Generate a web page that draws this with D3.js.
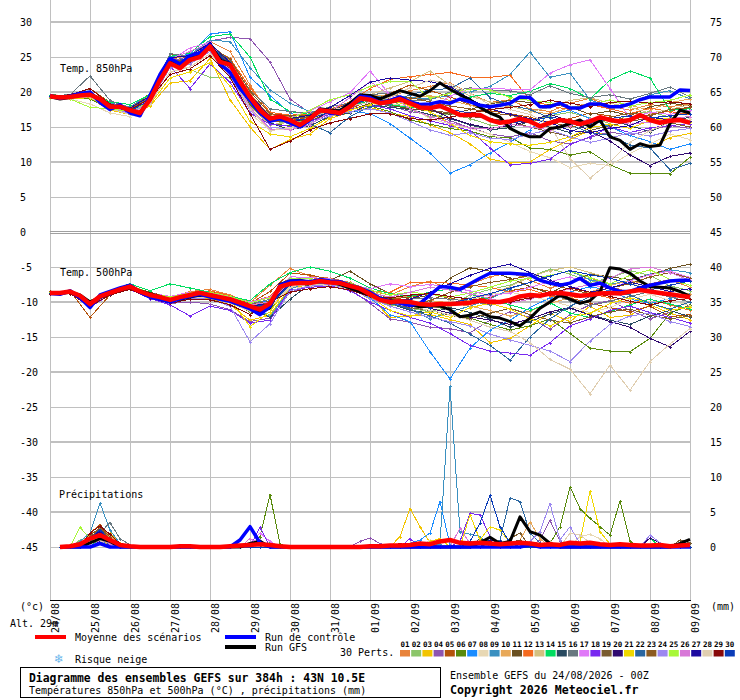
<!DOCTYPE html>
<html>
<head>
<meta charset="utf-8">
<script src="https://cdn.jsdelivr.net/npm/d3@7"></script>
<style>
  body { margin: 0; background: #fff; }
  svg text { font-family: "DejaVu Sans Mono", monospace; font-size: 10px; fill: #000; }
</style>
</head>
<body>
<svg id="chart" width="740" height="700"></svg>
<script>
// dates under each day line
const dateLabels = ["24/08","25/08","26/08","27/08","28/08","29/08","30/08","31/08","01/09",
                    "02/09","03/09","04/09","05/09","06/09","07/09","08/09","09/09"];

const pertNames = d3.range(1, 31).map(d => d < 10 ? "0" + d : "" + d);
const pertColors = ["#e8833a","#8cc66a","#f2c400","#8e55b0","#b4530b","#588a0c","#1a8cff","#e8d8b4",
                    "#3a90c0","#e8a858","#6a5020","#f56a1e","#d4c080","#00dd60","#284a60","#687880",
                    "#e078f8","#7828f0","#7a5c30","#300a70","#f0d800","#2a66a0","#8c5a20","#9c88f0",
                    "#a8f838","#d878d8","#1c0aa0","#e0ceb0","#880808","#0a3cb8"];

// 6-hourly, 0h -> 384h
const t850Mean = [19.4,19.2,19.3,19.5,19.6,19.0,17.9,17.9,17.4,17.0,
  18.9,21.7,24.1,23.4,24.6,25.0,26.5,24.3,23.9,21.5,
  19.3,17.4,16.2,16.5,16.0,15.3,16.2,17.4,17.2,17.0,
  17.9,19.1,18.9,18.4,18.6,19.0,18.4,17.8,17.7,18.0,
  17.4,16.7,16.7,16.7,16.0,15.6,15.8,16.2,15.8,15.1,
  15.6,16.0,15.8,15.4,15.8,16.4,16.0,15.8,16.0,16.7,
  16.0,15.6,15.9,16.0,15.6];
const t850Ctrl = [19.5,19.1,19.4,19.8,20.0,18.5,17.5,18.2,17.0,16.6,
  19.5,22.5,24.8,24.0,25.2,25.6,26.8,24.0,22.8,20.5,
  18.8,17.0,15.8,16.2,15.6,15.0,16.0,17.5,17.0,16.9,
  18.0,19.4,19.2,18.5,18.8,19.3,18.6,18.2,18.3,18.6,
  18.4,19.0,18.6,18.1,17.9,18.1,18.4,19.3,19.2,17.9,
  17.9,18.4,17.7,17.7,18.3,18.3,17.9,17.9,18.3,18.9,
  19.3,19.3,19.3,20.3,20.2];
const t850Gfs = [19.3,19.0,19.2,19.6,19.9,18.8,17.6,18.0,17.2,16.9,
  19.2,22.0,24.5,23.8,24.9,25.4,26.9,24.6,24.0,21.2,
  19.0,17.1,16.0,16.4,15.8,15.1,16.3,17.6,17.4,17.3,
  18.4,19.6,19.5,19.0,19.6,20.2,19.8,19.4,20.2,21.3,
  20.4,19.6,18.9,17.8,17.0,16.4,14.8,14.1,13.6,13.6,
  14.8,15.0,15.5,16.0,15.0,16.0,13.6,13.1,11.8,12.6,
  12.2,12.4,15.5,17.4,17.0];

const t500Mean = [-8.7,-8.7,-8.5,-9.1,-10.3,-9.2,-8.7,-8.2,-7.8,-8.5,
  -9.0,-9.3,-9.7,-9.3,-9.0,-8.7,-9.0,-9.3,-9.6,-10.1,
  -10.6,-11.1,-10.2,-7.8,-7.4,-7.3,-7.3,-7.0,-7.2,-7.3,
  -7.7,-8.1,-8.9,-9.7,-10.0,-9.9,-10.0,-10.3,-10.4,-10.3,
  -10.3,-10.2,-10.1,-9.8,-10.0,-10.0,-9.7,-9.2,-9.0,-9.1,
  -8.8,-8.7,-8.9,-9.1,-9.0,-8.8,-8.7,-8.8,-8.5,-8.3,
  -8.5,-8.7,-8.9,-9.1,-9.3];
const t500Ctrl = [-8.8,-8.9,-8.4,-9.4,-10.8,-9.0,-8.5,-8.0,-7.6,-8.6,
  -9.3,-9.6,-10.0,-9.5,-9.2,-8.9,-9.3,-9.6,-9.9,-10.4,
  -11.0,-11.8,-10.6,-7.6,-7.0,-7.0,-7.1,-6.8,-7.0,-7.1,
  -7.6,-8.0,-8.6,-9.5,-9.9,-10.2,-10.5,-10.2,-9.0,-7.8,
  -7.9,-8.2,-7.4,-6.6,-5.9,-5.9,-5.9,-6.0,-6.1,-6.9,
  -7.3,-7.6,-7.3,-6.6,-7.6,-7.3,-8.0,-8.5,-8.5,-8.0,
  -7.6,-7.3,-7.0,-6.9,-6.9];
const t500Gfs = [-8.6,-8.8,-8.6,-9.0,-10.0,-9.3,-8.8,-8.3,-7.9,-8.4,
  -8.8,-9.2,-9.8,-9.6,-9.3,-9.0,-9.1,-9.4,-9.8,-10.3,
  -10.9,-11.6,-10.8,-7.5,-7.0,-6.9,-7.2,-7.0,-7.2,-7.5,
  -8.0,-8.5,-9.0,-9.5,-9.8,-10.0,-10.4,-10.7,-10.5,-10.6,
  -11.1,-12.1,-11.9,-11.4,-12.1,-12.3,-12.8,-13.4,-12.3,-10.9,
  -10.0,-9.0,-9.6,-10.2,-9.8,-8.5,-5.1,-5.3,-5.9,-7.0,
  -7.8,-7.9,-8.0,-8.5,-9.2];

// perturbations, 12-hourly 0h -> 384h
const t850Perts = [
  [19.3,19.1,19.8,18.2,17.8,19.5,24.6,25.3,27.2,25.8,21.0,16.8,16.4,16.9,17.6,18.3,19.5,19.4,20.2,20.8,21.3,19.8,18.5,18.9,17.6,17.2,18.4,19.1,18.0,17.4,18.2,17.9,18.3],
  [19.5,19.4,19.2,17.6,17.1,18.6,23.8,23.2,22.1,22.0,18.9,15.9,15.5,16.0,17.5,17.8,19.2,18.8,17.5,16.4,16.9,16.2,15.3,14.9,15.8,16.6,17.1,16.3,15.5,16.8,17.2,16.4,15.9],
  [19.2,19.0,19.1,17.4,16.8,18.0,21.3,21.6,24.8,18.9,15.0,11.8,13.2,14.0,16.2,17.1,17.8,17.0,16.5,15.3,14.2,12.6,10.4,9.9,10.0,11.8,13.2,14.5,13.8,12.4,12.0,13.5,14.1],
  [19.4,19.3,19.6,18.1,17.0,19.2,24.4,25.1,27.3,27.8,27.6,24.3,19.0,17.0,17.0,17.8,18.6,18.0,17.2,16.8,15.9,14.9,14.0,13.6,14.2,13.0,12.6,13.5,14.3,13.8,14.6,15.2,14.8],
  [19.6,19.5,20.5,18.5,17.6,19.8,25.4,24.8,26.0,23.5,18.8,15.8,15.9,16.4,17.0,17.5,18.9,19.8,21.0,20.2,19.3,18.2,17.3,16.9,16.4,15.6,16.2,17.0,16.6,15.9,16.8,17.3,17.8],
  [19.3,19.2,19.0,17.7,17.3,18.8,23.9,24.3,26.6,23.1,18.2,15.4,15.2,15.9,17.1,17.6,18.0,17.2,16.0,15.4,14.8,14.4,13.6,13.5,12.0,11.8,11.0,11.5,9.6,8.4,8.4,8.3,10.7],
  [19.4,19.5,19.9,18.3,17.7,19.4,24.9,25.4,28.3,28.6,22.1,19.5,17.0,16.0,16.9,17.3,16.9,15.5,13.4,11.3,8.4,9.6,11.3,12.8,14.6,16.8,17.4,16.2,15.0,13.8,12.9,11.8,12.6],
  [19.1,19.0,18.3,17.0,16.5,18.2,22.8,23.6,25.4,22.3,16.9,14.6,15.0,15.5,16.9,17.6,18.1,18.3,17.9,16.2,15.4,14.8,14.0,12.8,11.5,10.6,9.2,9.8,9.5,11.2,12.6,14.0,13.2],
  [19.5,19.4,19.7,18.4,17.9,19.7,25.0,25.3,27.4,27.2,23.5,20.3,18.4,17.2,17.0,17.7,19.2,19.6,19.2,19.0,19.5,20.0,20.8,22.5,25.7,22.1,22.7,18.9,17.8,18.4,19.6,20.2,19.0],
  [19.4,19.2,19.6,18.0,17.5,19.1,24.3,24.9,26.9,24.4,19.8,16.6,16.3,16.6,17.4,18.2,19.4,19.6,19.0,19.5,18.8,18.1,17.4,18.0,17.2,16.9,17.8,18.4,17.6,18.1,17.4,18.5,19.0],
  [19.3,19.2,19.4,17.8,17.2,18.7,23.9,24.5,26.3,23.3,18.6,15.9,15.8,16.0,16.8,17.4,18.4,18.1,17.6,17.3,16.8,17.5,18.3,18.8,18.5,18.2,17.9,16.8,17.3,16.6,17.9,18.4,18.0],
  [19.5,19.4,19.8,18.0,17.4,19.0,24.0,24.6,26.4,24.8,20.6,17.1,16.7,16.8,17.5,18.6,20.5,21.8,22.2,22.5,22.8,22.1,22.1,22.4,18.9,18.0,17.5,18.2,17.6,16.9,17.7,17.2,16.8],
  [19.2,19.1,19.3,17.6,16.9,18.4,23.6,24.2,26.1,22.9,17.9,15.3,15.7,16.3,17.3,17.8,19.6,20.6,21.5,23.0,21.0,19.4,18.6,18.0,17.2,17.8,18.8,19.2,18.4,17.8,17.0,17.5,18.2],
  [19.6,19.5,19.9,18.6,18.2,19.6,25.1,25.6,27.9,28.3,25.0,19.0,17.2,16.8,17.2,17.9,18.8,18.2,17.8,17.5,18.6,19.3,19.8,19.5,20.1,21.2,20.5,19.0,21.7,23.0,22.0,17.4,17.6],
  [19.3,19.3,19.5,17.7,17.0,18.5,24.0,24.8,26.8,24.0,19.0,15.6,14.6,15.2,16.5,17.0,18.2,17.8,17.5,16.8,16.2,15.3,14.6,14.9,15.8,15.0,14.2,15.6,16.0,15.2,14.3,15.8,16.4],
  [19.5,19.6,22.3,18.8,17.6,19.3,25.5,25.0,26.7,24.6,20.2,17.6,17.2,17.0,17.9,18.4,19.6,19.9,18.8,18.9,20.0,20.6,20.3,20.2,19.6,20.9,19.8,19.2,19.6,19.0,19.8,20.7,19.3],
  [19.4,19.2,19.6,18.0,17.4,18.9,24.5,26.3,27.1,23.0,19.1,16.3,16.4,17.3,18.6,19.9,23.0,19.6,18.0,17.6,19.4,20.5,20.5,20.4,20.3,22.7,23.9,24.6,20.5,16.2,17.1,16.8,17.4],
  [19.3,19.1,19.4,17.7,17.1,18.6,23.7,20.5,24.0,21.4,17.0,15.4,15.1,15.8,16.8,17.5,18.1,17.6,16.6,15.9,15.2,14.5,12.0,9.6,9.8,10.4,12.5,13.6,15.0,14.2,14.9,15.2,15.5],
  [19.4,19.3,19.5,17.9,17.3,18.9,24.2,24.6,26.2,24.3,19.5,16.4,16.1,16.5,17.5,18.1,19.0,18.7,18.2,17.4,17.0,16.5,16.2,15.8,15.0,14.3,13.6,14.5,15.2,15.8,16.3,15.6,15.0],
  [19.3,19.2,19.7,18.0,17.5,19.0,24.0,24.4,26.4,23.6,19.0,16.0,15.9,16.1,17.0,18.5,19.5,18.9,18.5,17.6,16.3,15.4,14.8,15.2,15.9,16.8,15.9,14.4,13.0,11.0,9.5,10.8,11.3],
  [19.2,19.0,19.2,17.5,16.9,18.2,22.0,22.9,24.2,20.8,15.8,14.0,13.6,14.8,16.4,17.4,18.2,18.9,18.0,17.2,15.5,13.8,12.9,12.6,12.4,12.8,13.6,14.9,15.4,14.8,15.9,16.3,15.7],
  [19.4,19.3,19.6,17.8,17.2,18.8,24.2,24.9,26.8,24.3,19.4,16.0,15.7,15.4,14.2,16.5,17.9,18.3,19.6,20.3,20.5,22.0,19.2,18.1,17.5,16.3,15.3,14.2,13.8,12.4,12.0,8.9,9.8],
  [19.5,19.4,19.8,18.1,17.6,19.1,24.3,24.7,26.6,24.7,20.1,16.9,16.6,16.7,17.4,18.0,19.3,19.1,19.2,18.6,18.0,17.6,17.0,16.7,16.1,15.7,15.0,15.5,16.4,17.0,16.6,17.5,17.8],
  [19.3,19.2,19.3,17.6,17.0,18.5,23.5,24.0,25.8,22.3,17.4,14.9,14.8,15.6,16.6,17.2,17.6,17.0,15.8,14.6,13.8,14.2,13.4,13.2,14.0,14.6,13.6,12.8,13.4,14.2,13.7,14.4,14.8],
  [19.2,19.0,17.8,17.6,17.2,18.7,23.8,24.4,26.2,23.5,18.6,16.1,16.2,17.4,18.9,19.6,20.8,21.5,21.5,19.1,19.8,20.4,20.3,19.2,18.8,18.5,17.8,18.2,18.9,18.0,18.5,18.8,19.6],
  [19.4,19.3,19.4,17.8,17.3,18.9,24.7,25.8,27.0,23.4,17.8,14.7,14.6,15.3,17.2,19.2,21.5,19.6,17.6,16.5,15.6,14.9,14.7,15.4,15.0,14.6,15.2,16.2,16.0,15.4,15.7,16.2,16.5],
  [19.5,19.4,19.9,18.2,17.7,19.4,24.9,25.2,27.0,24.2,19.6,16.5,16.2,16.7,17.8,19.5,21.4,22.0,21.7,21.5,20.8,19.0,17.6,16.8,16.2,15.6,14.5,14.2,14.8,15.2,16.4,16.0,15.8],
  [19.3,19.2,19.3,17.6,16.8,18.3,22.9,23.6,25.5,22.6,17.6,14.5,14.8,15.9,17.4,18.0,18.5,19.2,20.6,21.7,21.2,19.8,18.2,17.5,16.8,15.2,10.5,7.7,10.0,12.8,14.5,15.6,16.2],
  [19.4,19.6,20.5,18.3,17.5,19.0,22.5,23.3,25.2,22.1,16.9,11.8,13.0,14.6,15.6,16.2,16.9,16.9,16.2,16.0,16.4,17.0,17.5,17.8,18.2,18.8,18.4,17.9,18.5,18.7,18.4,18.6,18.3],
  [19.4,19.3,19.6,17.9,17.3,18.8,24.0,24.5,26.6,23.8,19.1,16.1,15.9,16.2,17.1,18.0,19.1,18.6,18.7,18.1,17.5,17.0,16.2,15.6,15.9,16.4,16.0,15.6,16.2,16.6,16.3,16.6,16.9]
];

const t500Perts = [
  [-8.6,-8.4,-10.6,-8.5,-7.6,-8.8,-9.4,-8.5,-8.2,-9.0,-10.1,-7.6,-5.2,-6.3,-6.6,-7.2,-8.4,-9.0,-7.8,-7.0,-8.2,-7.5,-6.4,-5.8,-6.9,-8.0,-7.2,-6.5,-7.8,-8.6,-7.4,-6.8,-7.9],
  [-8.8,-8.6,-9.8,-8.6,-8.0,-9.3,-9.9,-9.2,-9.4,-10.0,-10.9,-11.8,-8.0,-7.5,-7.0,-7.9,-9.6,-10.4,-10.9,-11.4,-10.6,-9.0,-8.2,-7.6,-6.4,-5.3,-6.0,-7.2,-6.6,-5.5,-6.2,-7.7,-8.4],
  [-8.7,-8.5,-10.2,-8.8,-7.9,-9.2,-9.9,-9.3,-9.5,-10.4,-12.6,-11.9,-7.9,-7.6,-7.5,-8.1,-9.3,-12.2,-12.0,-11.8,-12.5,-13.2,-15.8,-15.2,-13.4,-11.6,-12.8,-10.6,-12.2,-11.9,-10.4,-11.6,-12.5],
  [-8.7,-8.6,-10.5,-8.9,-8.1,-9.4,-10.2,-10.0,-10.3,-11.1,-12.8,-12.3,-8.6,-7.8,-7.6,-8.2,-10.2,-12.4,-12.9,-13.6,-13.8,-14.4,-12.6,-11.4,-12.2,-13.9,-11.8,-10.4,-9.8,-11.2,-12.4,-11.5,-10.6],
  [-8.5,-8.4,-12.2,-9.0,-7.8,-8.6,-9.3,-8.6,-8.5,-9.3,-10.2,-8.5,-5.9,-6.1,-6.8,-7.3,-9.0,-9.6,-9.3,-8.8,-9.5,-9.8,-9.3,-8.4,-7.9,-8.5,-9.4,-10.2,-10.8,-11.4,-10.6,-12.1,-11.8],
  [-8.8,-8.6,-10.3,-8.8,-7.9,-9.1,-9.8,-9.3,-9.3,-10.0,-11.4,-11.0,-7.8,-7.6,-7.4,-7.9,-8.6,-9.4,-10.4,-10.9,-11.6,-12.3,-13.2,-14.0,-13.4,-12.4,-14.5,-16.6,-17.0,-17.1,-15.2,-11.6,-10.4],
  [-8.6,-8.5,-10.1,-8.6,-7.7,-8.9,-9.5,-8.9,-8.8,-9.4,-10.3,-9.8,-7.2,-7.0,-7.3,-8.1,-9.4,-11.8,-12.8,-17.1,-21.0,-16.6,-14.0,-12.6,-10.8,-9.4,-8.6,-7.8,-8.4,-9.6,-10.2,-9.5,-8.8],
  [-8.8,-8.6,-10.0,-8.7,-8.0,-9.2,-9.8,-9.4,-9.2,-10.2,-11.3,-10.8,-8.0,-7.8,-7.6,-8.3,-9.2,-10.0,-10.6,-10.4,-9.8,-9.4,-8.9,-8.6,-9.2,-9.8,-10.6,-11.5,-10.8,-9.6,-8.9,-9.8,-10.5],
  [-8.6,-8.4,-10.4,-8.6,-7.7,-8.9,-9.6,-8.8,-8.7,-9.3,-10.4,-12.1,-8.2,-7.0,-6.8,-7.4,-8.8,-10.1,-11.0,-12.4,-11.4,-10.6,-9.6,-8.1,-7.2,-6.2,-5.6,-6.8,-7.5,-6.9,-6.0,-5.4,-5.8],
  [-8.7,-8.5,-10.3,-8.7,-7.8,-9.0,-9.6,-9.0,-8.9,-9.5,-10.5,-9.9,-6.8,-7.0,-7.1,-7.6,-8.5,-9.4,-9.2,-9.8,-10.1,-10.6,-11.2,-12.0,-11.3,-10.2,-9.4,-8.6,-7.6,-7.0,-7.5,-8.2,-8.9],
  [-8.7,-8.6,-10.6,-8.8,-7.9,-9.1,-9.8,-9.2,-9.1,-9.8,-10.8,-10.6,-7.2,-7.1,-6.9,-5.6,-7.4,-8.8,-9.6,-9.0,-6.6,-5.1,-5.6,-6.6,-7.8,-8.8,-7.2,-6.0,-6.4,-6.8,-6.1,-5.2,-4.6],
  [-8.6,-8.4,-10.2,-8.5,-7.6,-8.8,-9.3,-8.7,-8.4,-9.1,-10.0,-9.2,-6.4,-6.5,-6.9,-7.4,-8.4,-8.6,-7.2,-7.2,-7.3,-7.6,-7.9,-8.6,-8.2,-9.1,-9.6,-8.8,-9.4,-10.2,-9.6,-10.4,-11.2],
  [-8.8,-8.6,-10.1,-8.7,-7.9,-9.1,-9.8,-9.2,-9.3,-9.9,-11.0,-10.8,-7.6,-7.3,-7.2,-7.8,-8.9,-9.8,-10.2,-10.9,-10.5,-9.7,-8.9,-7.8,-6.4,-5.5,-5.0,-5.8,-6.6,-7.4,-8.1,-7.6,-7.0],
  [-8.7,-8.5,-10.0,-8.4,-7.4,-8.4,-7.4,-8.0,-8.6,-9.2,-9.8,-7.4,-5.8,-5.0,-5.6,-6.6,-8.0,-8.8,-9.2,-8.6,-8.1,-8.9,-9.6,-10.4,-11.2,-10.1,-11.6,-12.2,-11.4,-10.4,-9.6,-10.3,-11.0],
  [-8.7,-8.5,-10.4,-8.8,-7.9,-9.0,-9.7,-9.1,-9.1,-9.7,-10.9,-12.2,-9.6,-7.4,-7.3,-7.8,-9.0,-10.2,-11.2,-11.6,-10.8,-11.5,-12.4,-13.6,-12.8,-11.7,-10.9,-11.8,-12.6,-13.2,-12.0,-11.2,-12.1],
  [-8.6,-8.5,-10.2,-8.6,-7.7,-8.9,-9.6,-8.9,-8.9,-9.5,-10.3,-9.6,-6.9,-7.0,-7.0,-7.5,-8.7,-9.7,-9.6,-9.4,-9.6,-9.9,-10.4,-10.0,-9.4,-8.9,-9.8,-10.5,-9.9,-9.2,-8.5,-9.3,-10.0],
  [-8.7,-8.4,-10.1,-8.5,-7.6,-8.7,-9.2,-8.6,-8.6,-9.3,-10.0,-9.3,-6.4,-6.5,-6.7,-7.5,-8.1,-7.4,-7.8,-7.5,-7.9,-8.4,-9.1,-8.7,-7.9,-7.1,-6.4,-7.5,-8.1,-7.0,-6.1,-5.6,-6.5],
  [-8.8,-8.7,-10.7,-9.0,-8.2,-9.5,-10.4,-12.0,-10.6,-11.2,-13.0,-12.6,-8.3,-7.9,-7.7,-8.4,-10.0,-11.2,-12.2,-13.0,-14.5,-16.2,-17.0,-17.3,-17.6,-15.8,-13.4,-12.4,-11.2,-10.6,-11.5,-12.2,-13.0],
  [-8.7,-8.6,-10.4,-8.7,-7.9,-9.1,-9.8,-9.1,-9.0,-9.6,-10.6,-10.1,-7.5,-7.3,-7.2,-7.8,-9.1,-10.3,-10.8,-11.2,-11.9,-12.4,-11.6,-10.9,-11.8,-12.6,-13.0,-12.1,-11.4,-11.0,-11.9,-12.4,-12.0],
  [-8.7,-8.5,-10.3,-8.7,-7.8,-9.0,-9.7,-9.0,-8.9,-9.5,-10.4,-10.0,-7.3,-7.2,-7.1,-7.7,-8.9,-9.9,-10.3,-10.9,-11.6,-12.1,-12.6,-13.2,-12.4,-11.4,-10.8,-11.9,-12.8,-13.6,-15.2,-16.4,-14.2],
  [-8.6,-8.4,-10.3,-8.6,-7.8,-9.0,-9.6,-9.1,-9.0,-9.7,-13.5,-11.4,-7.4,-7.1,-7.1,-7.6,-9.2,-11.2,-12.0,-11.4,-12.2,-10.8,-10.2,-11.0,-12.4,-13.4,-12.2,-11.6,-10.2,-9.4,-10.1,-11.2,-10.7],
  [-8.7,-8.5,-10.4,-8.7,-7.8,-8.9,-9.7,-9.0,-9.0,-9.6,-10.5,-10.3,-7.6,-7.3,-7.3,-7.8,-9.0,-10.2,-11.0,-12.0,-13.0,-14.6,-16.2,-18.3,-15.0,-12.4,-10.6,-9.2,-8.5,-9.0,-10.2,-11.0,-10.0],
  [-8.7,-8.5,-10.3,-8.7,-7.8,-9.0,-9.7,-9.0,-9.0,-9.6,-10.4,-9.9,-7.1,-7.1,-7.0,-7.6,-8.8,-9.8,-10.4,-9.8,-8.6,-7.8,-7.2,-6.8,-6.2,-7.4,-8.2,-8.8,-8.0,-7.4,-6.4,-5.8,-6.6],
  [-8.8,-8.6,-10.5,-8.8,-8.0,-9.3,-10.1,-9.5,-9.6,-10.6,-15.7,-13.1,-8.4,-7.7,-7.5,-8.1,-9.5,-10.6,-11.4,-12.2,-12.8,-13.4,-14.6,-15.4,-16.2,-17.0,-18.5,-15.6,-13.2,-12.0,-11.6,-12.8,-13.5],
  [-8.6,-8.4,-10.1,-8.5,-7.6,-8.7,-9.3,-8.7,-8.6,-9.2,-10.1,-9.4,-6.6,-6.7,-6.8,-7.3,-8.3,-9.0,-8.6,-8.9,-9.3,-8.7,-7.9,-7.0,-6.6,-6.2,-5.6,-6.5,-7.4,-6.2,-5.4,-6.8,-7.6],
  [-8.7,-8.5,-10.3,-8.6,-7.7,-8.9,-9.6,-9.0,-8.9,-9.5,-10.4,-10.0,-7.2,-7.1,-7.1,-7.7,-8.7,-9.3,-8.6,-7.9,-8.3,-8.8,-9.5,-10.2,-9.6,-8.8,-8.1,-7.5,-6.6,-5.3,-5.0,-5.8,-6.9],
  [-8.7,-8.5,-10.3,-8.7,-7.8,-9.0,-9.7,-9.1,-9.0,-9.6,-10.6,-10.2,-7.4,-7.2,-7.2,-7.7,-8.9,-9.8,-9.6,-8.6,-7.4,-6.2,-5.2,-4.6,-5.8,-6.9,-7.8,-8.6,-8.0,-7.2,-7.8,-8.5,-8.1],
  [-8.8,-8.6,-10.2,-8.8,-8.0,-9.2,-9.9,-9.3,-9.3,-9.9,-11.0,-10.7,-7.8,-7.5,-7.4,-8.0,-9.1,-9.9,-10.6,-11.2,-11.8,-12.6,-13.6,-14.2,-15.8,-18.2,-19.6,-23.1,-19.0,-22.6,-18.5,-16.0,-13.8],
  [-8.9,-8.8,-10.6,-9.0,-8.2,-9.4,-10.2,-9.6,-9.7,-10.4,-11.8,-10.0,-8.6,-8.1,-7.8,-8.3,-9.2,-9.4,-9.0,-8.8,-9.2,-9.6,-9.9,-10.0,-9.4,-8.8,-8.0,-8.6,-9.2,-9.9,-10.4,-9.8,-9.5],
  [-8.7,-8.5,-10.4,-8.8,-7.9,-9.1,-9.8,-9.2,-9.1,-9.7,-10.7,-10.4,-7.5,-7.3,-7.2,-7.8,-9.0,-10.1,-10.4,-10.8,-10.2,-9.5,-8.8,-8.0,-7.2,-6.3,-5.5,-6.1,-6.6,-7.4,-8.3,-7.6,-7.0]
];

// precipitation (mm / 6h), 6h -> 384h
const precipMean = [0.0,0.1,0.4,1.2,1.7,1.0,0.3,0.1,0.0,0.0,
  0.0,0.0,0.1,0.1,0.0,0.0,0.0,0.1,0.2,0.3,
  0.4,0.3,0.1,0.0,0.0,0.0,0.0,0.0,0.0,0.0,
  0.0,0.1,0.1,0.2,0.2,0.3,0.5,0.4,0.8,1.0,
  0.6,0.5,0.6,0.5,0.4,0.5,0.6,0.5,0.3,0.4,
  0.3,0.6,0.5,0.6,0.4,0.3,0.4,0.3,0.2,0.2,
  0.3,0.1,0.2,0.3];
// [hour, mm] for the steps with rain, 0 elsewhere
const precipCtrl = [[30,0.5],[114,1.0],[120,2.9],[126,0.6],[288,0.3]];
const precipGfs = [[24,0.6],[30,1.2],[36,0.8],[120,0.5],[126,0.8],[258,0.6],[264,1.4],[270,0.5],
  [276,0.8],[282,4.3],[288,2.2],[294,1.7],[300,0.5],[378,0.5],[384,1.1]];
const precipPerts = [
  [[24,1.2],[30,2.0],[36,1.0],[264,0.6],[330,0.4]],
  [[18,1.0],[24,1.5],[30,0.8],[270,0.5]],
  [[24,1.0],[30,1.6],[36,2.0],[42,0.6],[210,1.5],[216,5.5],[222,2.9],[228,0.6]],
  [[30,1.3],[36,0.8],[186,0.8],[192,1.3],[198,0.5],[294,1.0],[300,3.8],[306,0.8]],
  [[24,2.0],[30,3.2],[36,1.5],[42,0.4]],
  [[30,1.0],[36,0.6],[126,1.5],[132,7.5],[138,0.4],[300,0.5],[306,2.9],[312,8.6],[318,5.5],[324,4.1],[330,2.9],[336,1.7],[342,6.6],[348,0.8]],
  [[24,0.8],[30,1.2],[216,0.5],[222,1.0],[228,2.0],[234,6.5],[240,0.3]],
  [[30,0.8],[36,1.0],[228,1.0],[300,0.8],[318,1.5],[324,1.8],[330,1.2]],
  [[18,0.8],[24,2.0],[30,6.3],[36,2.4],[42,0.5],[234,0.5],[240,23.0],[246,2.2],[252,1.8],[258,1.5]],
  [[24,1.5],[30,2.4],[36,1.8],[282,1.0],[288,3.6],[294,1.2]],
  [[24,1.0],[30,1.8],[36,0.8],[276,0.6],[282,1.0]],
  [[24,1.8],[30,2.6],[36,1.2]],
  [[24,0.8],[30,1.4],[36,1.6]],
  [[30,1.2],[36,0.8],[132,0.6],[360,1.3]],
  [[24,1.2],[30,2.2],[36,1.0],[258,1.2],[264,0.8]],
  [[24,1.0],[30,2.0],[36,3.5],[42,1.2],[48,0.3]],
  [[24,0.6],[30,1.5],[36,0.6],[120,0.6],[126,2.0],[132,0.8]],
  [[30,1.0],[126,2.8],[216,1.2],[246,0.8],[252,4.8],[258,4.6],[264,1.5]],
  [[24,1.4],[30,2.6],[36,1.0],[276,1.2],[282,2.0],[378,1.0],[384,0.6]],
  [[30,0.8],[36,1.2],[360,1.3],[366,0.6]],
  [[24,0.7],[30,1.4],[228,0.8],[234,1.2],[252,4.6],[258,1.0],[264,2.9],[270,2.4],[276,0.6],[318,0.6],[324,8.0],[330,2.2],[336,0.4]],
  [[24,1.0],[30,1.8],[270,1.0],[276,7.0],[282,6.5],[288,2.0],[294,0.6]],
  [[24,1.6],[30,2.8],[36,1.4]],
  [[30,0.6],[126,1.0],[288,0.8],[294,2.2],[300,6.2],[306,1.0],[312,2.9],[318,0.5],[360,1.7],[366,0.6]],
  [[18,2.8],[24,1.2],[30,0.6]],
  [[30,1.0],[36,0.5],[120,1.2],[126,0.6],[246,2.7],[252,0.5]],
  [[24,1.4],[30,2.2],[36,0.8],[264,1.0],[270,0.8]],
  [[24,0.8],[30,1.0],[312,2.0],[318,1.7],[324,0.6]],
  [[24,2.0],[30,3.0],[36,1.8],[42,0.5],[210,0.5],[264,0.8]],
  [[24,1.2],[30,2.5],[36,1.0],[252,0.8],[258,3.4],[264,7.4],[270,2.9],[276,0.6]]
];

const leftTicks = d3.range(30, -46, -5);
const rightTicks = d3.range(0, 76, 5);

const svg = d3.select('#chart');

const x = d3.scaleLinear().domain([0, 384]).range([50, 690]);
const y = d3.scaleLinear().domain([-45, 30]).range([547, 22]);   // temperatures
const yP = d3.scaleLinear().domain([0, 75]).range([547, 22]);    // precipitation, right axis
const plotBottom = 600;

// grid
const grid = svg.append('g');
const dayHours = dateLabels.map((d, i) => i * 24);
grid.selectAll('line.v').data(dayHours).enter().append('line')
  .attr('x1', d => x(d) + 0.5).attr('x2', d => x(d) + 0.5)
  .attr('y1', 0).attr('y2', plotBottom)
  .attr('stroke', '#c0c0c0').attr('stroke-width', 1);

leftTicks.forEach(v => {
  if (v === 0) {
    [-1, 1].forEach(o => grid.append('line')
      .attr('x1', 50).attr('x2', 690)
      .attr('y1', y(0) + o + 0.5).attr('y2', y(0) + o + 0.5)
      .attr('stroke', '#a0a0a0'));
  } else {
    const thick = v % 10 === 0;
    grid.append('line')
      .attr('x1', 50).attr('x2', 690)
      .attr('y1', thick ? y(v) : y(v) + 0.5).attr('y2', thick ? y(v) : y(v) + 0.5)
      .attr('stroke', '#c0c0c0').attr('stroke-width', thick ? 2 : 1);
  }
});
grid.append('line').attr('x1', 50).attr('x2', 691).attr('y1', plotBottom + 0.5).attr('y2', plotBottom + 0.5)
  .attr('stroke', '#000');

// axes
const fixAxis = g => {
  g.select('.domain').remove();
  g.attr('font-family', '"DejaVu Sans Mono", monospace').attr('font-size', 10);
};
svg.append('g').attr('transform', 'translate(20,0)')
  .call(d3.axisRight(y).tickValues(leftTicks).tickSize(0).tickPadding(0).tickFormat(d => String(d)))
  .call(fixAxis);
svg.append('g').attr('transform', 'translate(710,0)')
  .call(d3.axisRight(yP).tickValues(rightTicks).tickSize(0).tickPadding(0).tickFormat(d => String(d)))
  .call(fixAxis);
const xAxis = svg.append('g').attr('transform', `translate(0,${plotBottom + 3})`)
  .call(d3.axisBottom(x).tickValues(dayHours).tickSize(0).tickFormat((d, i) => dateLabels[i]))
  .call(fixAxis);
xAxis.selectAll('text')
  .attr('transform', 'rotate(-90)')
  .attr('x', 0).attr('y', 8).attr('dy', 0)
  .style('text-anchor', 'end');

// series helpers
const tempPts = vals => vals.map((v, i) => [i * 384 / (vals.length - 1), v]);
const precipHours = d3.range(6, 385, 6);
const rainPts = vals => vals.map((v, i) => [precipHours[i], v]);
const spikePts = list => { const m = new Map(list); return precipHours.map(h => [h, m.get(h) || 0]); };

const lineT = d3.line().x(d => x(d[0])).y(d => y(d[1]));
const lineP = d3.line().x(d => x(d[0])).y(d => yP(d[1]));
const markPath = (pts, sy) => pts.map(d => {
  const px = Math.round(x(d[0])) + 0.5, py = Math.round(sy(d[1])) + 0.5;
  return `M${px - 1.5},${py}h3M${px},${py - 1.5}v3`;
}).join('');

const members = svg.append('g');
const panels = [
  { perts: t850Perts.map(tempPts), ys: y, line: lineT },
  { perts: t500Perts.map(tempPts), ys: y, line: lineT },
  { perts: precipPerts.map(spikePts), ys: yP, line: lineP }
];
panels.forEach(p => {
  p.perts.forEach((pts, i) => {
    members.append('path').attr('d', p.line(pts))
      .attr('fill', 'none').attr('stroke', pertColors[i]).attr('stroke-width', 1)
      .attr('shape-rendering', 'crispEdges');
    members.append('path').attr('d', markPath(pts, p.ys))
      .attr('fill', 'none').attr('stroke', pertColors[i]).attr('stroke-width', 1)
      .attr('shape-rendering', 'crispEdges');
  });
});

const mainLines = [
  { pts: tempPts(t850Gfs), line: lineT, color: '#000', w: 3 },
  { pts: tempPts(t500Gfs), line: lineT, color: '#000', w: 3 },
  { pts: spikePts(precipGfs), line: lineP, color: '#000', w: 3 },
  { pts: tempPts(t850Ctrl), line: lineT, color: '#0000ff', w: 3.5 },
  { pts: tempPts(t500Ctrl), line: lineT, color: '#0000ff', w: 3.5 },
  { pts: spikePts(precipCtrl), line: lineP, color: '#0000ff', w: 3.5 },
  { pts: tempPts(t850Mean), line: lineT, color: '#ff0000', w: 4.5 },
  { pts: tempPts(t500Mean), line: lineT, color: '#ff0000', w: 4.5 },
  { pts: rainPts(precipMean), line: lineP, color: '#ff0000', w: 4.5 }
];
svg.append('g').selectAll('path').data(mainLines).enter().append('path')
  .attr('d', d => d.line(d.pts))
  .attr('fill', 'none').attr('stroke', d => d.color).attr('stroke-width', d => d.w)
  .attr('stroke-linejoin', 'round');

// panel titles
svg.append('text').attr('x', 60).attr('y', 72).text('Temp. 850hPa');
svg.append('text').attr('x', 60).attr('y', 276).text('Temp. 500hPa');
svg.append('text').attr('x', 59).attr('y', 498).text('Précipitations');

// units
svg.append('text').attr('x', 20).attr('y', 610).text('(°c)');
svg.append('text').attr('x', 10).attr('y', 627).text('Alt. 29m');
svg.append('text').attr('x', 711).attr('y', 610).text('(mm)');

// legend
const legend = svg.append('g');
const legendLines = [
  { x: 35, y: 637, color: '#ff0000', label: 'Moyenne des scénarios', ty: 641 },
  { x: 225, y: 637, color: '#0000ff', label: 'Run de contrôle', ty: 641 },
  { x: 225, y: 647, color: '#000', label: 'Run GFS', ty: 651 }
];
legendLines.forEach(d => {
  legend.append('rect').attr('x', d.x).attr('y', d.y - 2).attr('width', 31).attr('height', 4).attr('fill', d.color);
  legend.append('text').attr('x', d.x + 40).attr('y', d.ty).text(d.label);
});
legend.append('text').attr('x', 54).attr('y', 663)
  .style('font-family', '"DejaVu Sans", sans-serif').style('font-size', '12px').style('fill', '#6cb8ec')
  .text('❄');
legend.append('text').attr('x', 75).attr('y', 663).text('Risque neige');
legend.append('text').attr('x', 340).attr('y', 656).text('30 Perts.');

const sq = legend.selectAll('g.pert').data(pertNames).enter().append('g')
  .attr('transform', (d, i) => `translate(${400 + i * 11.2},0)`);
sq.append('rect').attr('x', 0).attr('y', 650).attr('width', 10).attr('height', 6.5)
  .attr('fill', (d, i) => pertColors[i]);
sq.append('text').attr('x', 5).attr('y', 647).attr('text-anchor', 'middle')
  .style('font-size', '7.5px').style('font-weight', 'bold').text(d => d);

// title box
svg.append('rect').attr('x', 20.5).attr('y', 667.5).attr('width', 420).attr('height', 30)
  .attr('fill', 'none').attr('stroke', '#000');
svg.append('text').attr('x', 29).attr('y', 682)
  .style('font-weight', 'bold').style('font-size', '11.4px')
  .text('Diagramme des ensembles GEFS sur 384h : 43N 10.5E');
svg.append('text').attr('x', 29).attr('y', 694)
  .text('Températures 850hPa et 500hPa (°C) , précipitations (mm)');
svg.append('text').attr('x', 450).attr('y', 679).text('Ensemble GEFS du 24/08/2026 - 00Z');
svg.append('text').attr('x', 450).attr('y', 694)
  .style('font-weight', 'bold').style('font-size', '11.6px')
  .text('Copyright 2026 Meteociel.fr');
</script>
</body>
</html>
